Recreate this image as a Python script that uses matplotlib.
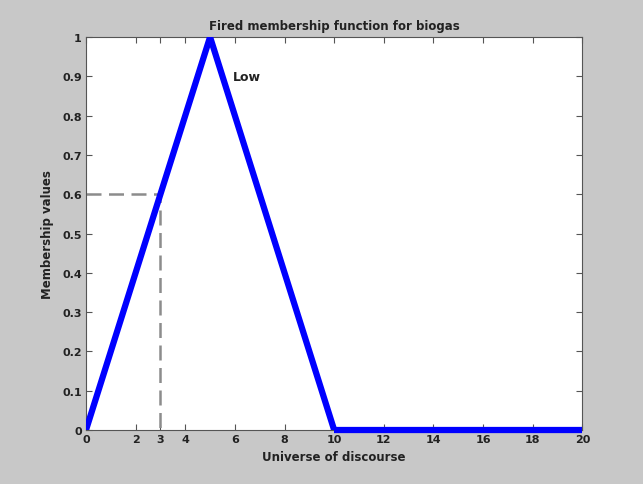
import numpy as np
import matplotlib.pyplot as plt

# membership function breakpoints
x_mf = [0, 5, 10, 20]
y_mf = [0, 1, 0, 0]

# reading at x = 3
x_read = 3
y_read = 0.6

xticks = [0, 2, 3, 4, 6, 8, 10, 12, 14, 16, 18, 20]
yticks = [0, 0.1, 0.2, 0.3, 0.4, 0.5, 0.6, 0.7, 0.8, 0.9, 1]
yticklabels = ["0", "0.1", "0.2", "0.3", "0.4", "0.5", "0.6", "0.7", "0.8", "0.9", "1"]

fig = plt.figure(figsize=(6.43, 4.85), dpi=100, facecolor="#c8c8c8")
ax = fig.add_axes([0.1337, 0.1113, 0.772, 0.8103])
ax.set_facecolor("white")

ax.plot([0, x_read, x_read], [y_read, y_read, 0], color="#8c8c8c",
        linestyle=(0, (6, 3)), linewidth=1.8, zorder=2)
# triangle part clipped at the box, flat tail drawn over the axis line
ax.plot(x_mf[:3], y_mf[:3], color="#0000ff", linewidth=4.5, zorder=3,
        solid_joinstyle="round", solid_capstyle="butt")
ax.plot(x_mf[2:], y_mf[2:], color="#0000ff", linewidth=4.5, zorder=3,
        solid_capstyle="butt", clip_on=False)

ax.text(5.9, 0.90, "Low", fontsize=9, fontweight="bold", color="#222222",
        va="center")

ax.set_xlim(0, 20)
ax.set_ylim(0, 1)
ax.set_xticks(xticks)
ax.set_xticklabels([str(t) for t in xticks])
ax.set_yticks(yticks)
ax.set_yticklabels(yticklabels)
ax.tick_params(direction="in", top=True, right=True, length=4, width=0.8,
               color="#555555", labelsize=8, labelcolor="#222222", pad=3)
for lbl in ax.get_xticklabels() + ax.get_yticklabels():
    lbl.set_fontweight("bold")
for s in ax.spines.values():
    s.set_color("#555555")
    s.set_linewidth(0.8)

ax.set_title("Fired membership function for biogas", fontsize=8.5,
             fontweight="bold", color="#222222", pad=6)
ax.set_xlabel("Universe of discourse", fontsize=8.5, fontweight="bold",
              color="#222222", labelpad=4)
ax.set_ylabel("Membership values", fontsize=8.5, fontweight="bold",
              color="#222222", labelpad=6)

fig.savefig("out.png", dpi=100, facecolor=fig.get_facecolor())
